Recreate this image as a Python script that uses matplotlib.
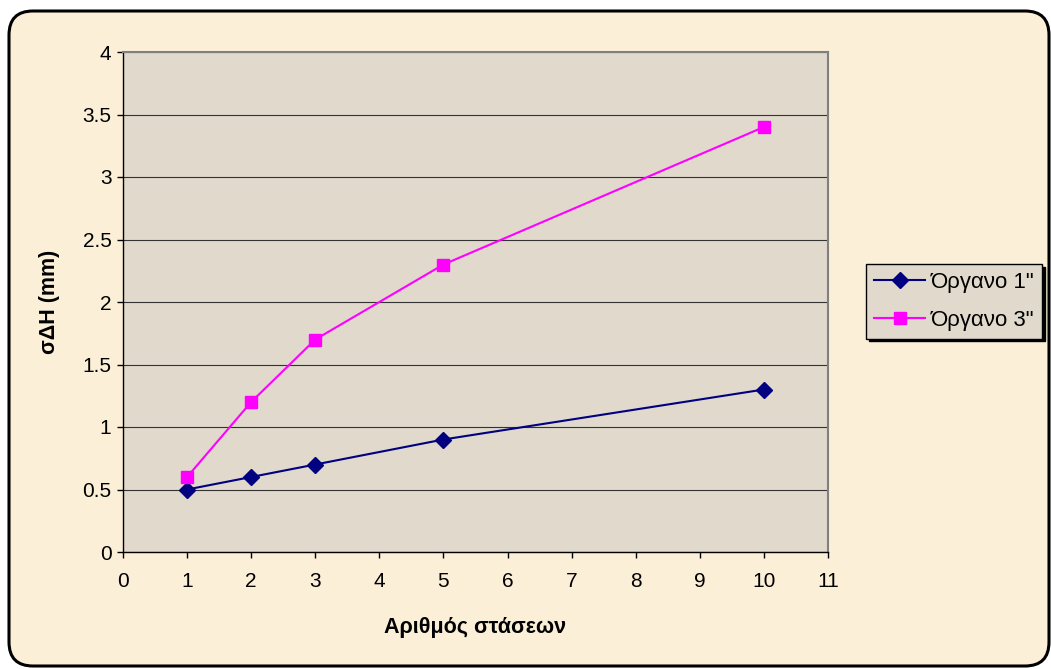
import numpy as np
import matplotlib.pyplot as plt
from matplotlib.patches import FancyBboxPatch
from matplotlib.transforms import IdentityTransform

#=============================================================================
#DATA
#=============================================================================

stations = [1, 2, 3, 5, 10]
organo_1 = [0.5, 0.6, 0.7, 0.9, 1.3]
organo_3 = [0.6, 1.2, 1.7, 2.3, 3.4]
labels = ['Όργανο 1"', 'Όργανο 3"']

#=============================================================================
#PLOT
#=============================================================================

plt.rcParams['font.family'] = ['Liberation Sans', 'DejaVu Sans']

W, H = 1051, 669
fig = plt.figure(figsize=(W / 100, H / 100), dpi=100)
fig.patch.set_facecolor('white')

# rounded outer frame (pixel coords)
frame = FancyBboxPatch((9, 3), 1040, 655, boxstyle='round,pad=0,rounding_size=24',
                       transform=IdentityTransform(), fc='#fcefd8', ec='black',
                       lw=2.2, zorder=-5)
fig.patches.append(frame)

ax = fig.add_axes([123 / W, 1 - 552 / H, (828 - 123) / W, (552 - 52) / H])
ax.set_zorder(2)
ax.set_facecolor('#e0d9cc')

ax.plot(stations, organo_1, color='#000080', lw=1.5, marker='D', ms=8,
        label=labels[0], zorder=3)
ax.plot(stations, organo_3, color='#ff00ff', lw=1.5, marker='s', ms=8.5,
        label=labels[1], zorder=3)

ax.set_xlim(0, 11)
ax.set_ylim(0, 4)
ax.set_xticks(range(0, 12))
ax.set_yticks(np.arange(0, 4.01, 0.5))
ax.set_yticklabels(['0', '0.5', '1', '1.5', '2', '2.5', '3', '3.5', '4'])
ax.yaxis.grid(True, color='#333333', lw=0.8)
ax.set_axisbelow(True)

for s in ['top', 'right']:
    ax.spines[s].set_color('#808080')
    ax.spines[s].set_linewidth(1.5)
for s in ['left', 'bottom']:
    ax.spines[s].set_color('black')
    ax.spines[s].set_linewidth(1.0)

ax.tick_params(axis='both', direction='out', length=4.3, width=1, labelsize=15,
               colors='black')
ax.tick_params(axis='x', pad=10)
ax.tick_params(axis='y', pad=4)

ax.set_xlabel('Αριθμός στάσεων', fontsize=15.5, fontweight='bold')
ax.set_ylabel('σΔΗ (mm)', fontsize=15.5, fontweight='bold')
ax.xaxis.set_label_coords(0.5, (552 - 627) / 500)
ax.xaxis.label.set_verticalalignment('center')
ax.yaxis.set_label_coords((50 - 123) / 705, 0.5)
ax.yaxis.label.set_verticalalignment('center')

leg = fig.legend(loc='upper left', bbox_to_anchor=(866 / W, 1 - 264 / H),
                 fontsize=16, frameon=True, fancybox=False,
                 shadow={'color': 'black', 'alpha': 1}, borderpad=0.36,
                 handlelength=2.3, labelspacing=0.75, handletextpad=0.25,
                 borderaxespad=0, markerscale=1.0)
leg.get_frame().set_facecolor('#e0d9cc')
leg.get_frame().set_edgecolor('black')
leg.get_frame().set_linewidth(1.0)
leg.get_frame().set_alpha(1)
leg.set_zorder(3)

plt.savefig('out.png', dpi=100)
